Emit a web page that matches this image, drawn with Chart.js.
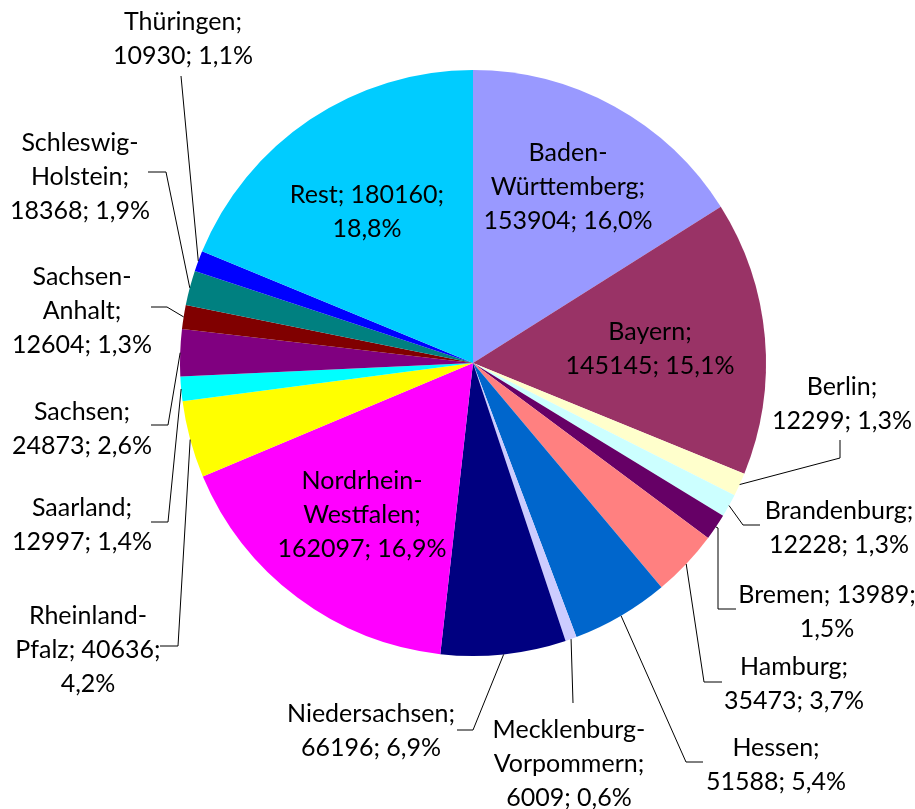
<!DOCTYPE html>
<html>
<head>
<meta charset="utf-8">
<script src="https://cdn.jsdelivr.net/npm/chart.js@4.4.1/dist/chart.umd.min.js"></script>
<style>
  html, body { margin: 0; padding: 0; background: #fff; }
  canvas { display: block; }
</style>
</head>
<body>
<canvas id="pie" width="915" height="809"></canvas>
<script>
// ==================== Data ====================
const STATES = [
    'Baden-Württemberg', 'Bayern', 'Berlin', 'Brandenburg', 'Bremen', 'Hamburg',
    'Hessen', 'Mecklenburg-Vorpommern', 'Niedersachsen', 'Nordrhein-Westfalen',
    'Rheinland-Pfalz', 'Saarland', 'Sachsen', 'Sachsen-Anhalt', 'Schleswig-Holstein',
    'Thüringen', 'Rest'
];
const VALUES = [
    153904, 145145, 12299, 12228, 13989, 35473,
    51588, 6009, 66196, 162097,
    40636, 12997, 24873, 12604, 18368,
    10930, 180160
];
const COLORS = [
    '#9999FF', '#993366', '#FFFFCC', '#CCFFFF', '#660066', '#FF8080',
    '#0066CC', '#CCCCFF', '#000080', '#FF00FF',
    '#FFFF00', '#00FFFF', '#800080', '#800000', '#008080',
    '#0000FF', '#00CCFF'
];

// label placement: x/y = centre of first text line, groups = tokens per line,
// leader = elbow points, last point is taken from the slice itself
const LABEL_LAYOUT = [
    { x: 568, y: 153, groups: [1, 1, 2] },
    { x: 650, y: 332, groups: [1, 2] },
    { x: 842, y: 387, groups: [1, 2], leader: [[840, 440], [840, 458]] },
    { x: 839, y: 511, groups: [1, 2], leader: [[760, 525], [743, 525]] },
    { x: 827, y: 595, groups: [2, 1], leader: [[736, 609], [718, 609], [718, 528]] },
    { x: 794, y: 667, groups: [1, 2], leader: [[722, 682], [704, 682]] },
    { x: 776, y: 748, groups: [1, 2], leader: [[703, 762], [686, 762]] },
    { x: 569, y: 730, groups: [1, 1, 2], leader: [[573, 703]] },
    { x: 371, y: 714, groups: [1, 2], leader: [[457, 730], [473, 730]] },
    { x: 362, y: 481, groups: [1, 1, 2] },
    { x: 88, y: 616, groups: [1, 2, 1], leader: [[160, 646], [178, 646]] },
    { x: 82, y: 508, groups: [1, 2], leader: [[151, 522], [168, 522]] },
    { x: 82, y: 412, groups: [1, 2], leader: [[151, 425], [168, 425]] },
    { x: 82, y: 277, groups: [1, 1, 2], leader: [[151, 307], [167, 307]] },
    { x: 80, y: 143, groups: [1, 1, 2], leader: [[148, 172], [166, 172]] },
    { x: 183, y: 22, groups: [1, 2], leader: [[181, 76]] },
    { x: 367, y: 195, groups: [2, 1] }
];

const LABEL_FONT = '25px Lato';
const LINE_HEIGHT = 34;

const total = VALUES.reduce((a, b) => a + b, 0);

function labelLines(i) {
    const pct = (VALUES[i] / total * 100).toFixed(1).replace('.', ',') + '%';
    const tokens = STATES[i].split(/(?<=-)/);
    tokens[tokens.length - 1] += ';';
    tokens.push(VALUES[i] + ';', pct);
    const lines = [];
    let k = 0;
    LABEL_LAYOUT[i].groups.forEach(n => {
        let line = '';
        for (let j = 0; j < n; j++, k++) {
            const t = tokens[k];
            line += (line === '' || line.endsWith('-')) ? t : ' ' + t;
        }
        lines.push(line);
    });
    return lines;
}

const pieLabels = {
    id: 'pieLabels',
    afterDatasetsDraw(chart) {
        const ctx = chart.ctx;
        const meta = chart.getDatasetMeta(0);
        ctx.save();
        ctx.font = LABEL_FONT;
        ctx.fillStyle = '#000';
        ctx.textAlign = 'center';
        ctx.textBaseline = 'middle';
        meta.data.forEach((arc, i) => {
            const L = LABEL_LAYOUT[i];
            if (L.leader) {
                const p = arc.getProps(['x', 'y', 'startAngle', 'endAngle', 'outerRadius'], true);
                const mid = (p.startAngle + p.endAngle) / 2;
                const ex = p.x + Math.cos(mid) * p.outerRadius;
                const ey = p.y + Math.sin(mid) * p.outerRadius;
                ctx.beginPath();
                ctx.strokeStyle = '#000';
                ctx.lineWidth = 1;
                ctx.moveTo(L.leader[0][0], L.leader[0][1]);
                L.leader.slice(1).forEach(pt => ctx.lineTo(pt[0], pt[1]));
                ctx.lineTo(ex, ey);
                ctx.stroke();
            }
            labelLines(i).forEach((line, j) => {
                ctx.fillText(line, L.x, L.y + j * LINE_HEIGHT);
            });
        });
        ctx.restore();
    }
};

new Chart(document.getElementById('pie').getContext('2d'), {
    type: 'pie',
    data: {
        labels: STATES,
        datasets: [{
            data: VALUES,
            backgroundColor: COLORS,
            borderWidth: 0,
            hoverOffset: 0
        }]
    },
    options: {
        responsive: false,
        animation: false,
        events: [],
        layout: { padding: { top: 70, bottom: 153, left: 180, right: 149 } },
        plugins: {
            legend: { display: false },
            tooltip: { enabled: false }
        }
    },
    plugins: [pieLabels]
});
</script>
</body>
</html>
